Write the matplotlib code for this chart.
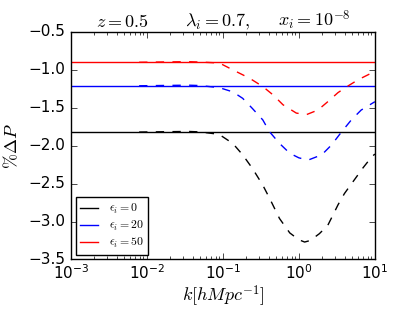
import matplotlib
matplotlib.use("Agg")
from matplotlib import pyplot as plt

# values
k_full = [1e-3, 1e1]
levels = {"0": -1.82, "20": -1.21, "50": -0.90}

k_eps0 = [0.0079, 0.020, 0.035, 0.050, 0.089, 0.135, 0.182, 0.245, 0.335, 0.41, 0.556, 0.759,
          1.0, 1.19, 1.41, 1.86, 2.4, 2.82, 3.27, 3.98, 4.47, 6.03, 7.0, 9.04, 10.0]
dp_eps0 = [-1.82, -1.815, -1.812, -1.818, -1.85, -1.97, -2.12, -2.30, -2.52, -2.69, -2.96, -3.15,
           -3.24, -3.27, -3.25, -3.16, -3.05, -2.91, -2.78, -2.63, -2.56, -2.38, -2.29, -2.15, -2.11]

k_eps20 = [0.0079, 0.020, 0.035, 0.050, 0.090, 0.135, 0.182, 0.245, 0.335, 0.41, 0.556, 0.759,
           1.0, 1.32, 2.0, 2.69, 3.63, 4.9, 6.6, 10.0]
dp_eps20 = [-1.21, -1.205, -1.202, -1.207, -1.235, -1.29, -1.375, -1.51, -1.66, -1.815, -1.97, -2.10,
            -2.16, -2.19, -2.12, -1.99, -1.82, -1.66, -1.53, -1.42]

k_eps50 = [0.0079, 0.020, 0.035, 0.050, 0.090, 0.135, 0.224, 0.335, 0.457, 0.617, 0.925,
           1.26, 1.78, 2.4, 3.27, 4.47, 6.03, 10.0]
dp_eps50 = [-0.90, -0.895, -0.892, -0.897, -0.91, -1.00, -1.11, -1.22, -1.33, -1.46, -1.57,
            -1.59, -1.53, -1.42, -1.30, -1.21, -1.13, -1.02]

plt.style.use("classic")
plt.rcParams["mathtext.fontset"] = "cm"

fig = plt.figure(figsize=(4.17, 3.13), dpi=100, facecolor="white")
ax = fig.add_axes([0.170, 0.171, 0.729, 0.727])

curves = [("0", k_eps0, dp_eps0, "k"), ("20", k_eps20, dp_eps20, "b"), ("50", k_eps50, dp_eps50, "r")]
for eps, kk, dp, c in curves:
    ax.plot(k_full, [levels[eps]] * 2, "-", color=c, lw=1, label=r"$\epsilon_i=%s$" % eps)
    ax.plot(kk, dp, "--", color=c, lw=1)

ax.set_xscale("log")
ax.set_xlim(1e-3, 1e1)
ax.set_ylim(-3.5, -0.5)
ax.tick_params(labelsize=11)
ax.tick_params(axis="x", pad=3)

ax.set_xlabel(r"$k[hMpc^{-1}]$", fontsize=13, labelpad=1)
ax.set_ylabel(r"$\%\Delta P$", fontsize=13)

# title pieces
ax.text(0.169, 1.023, r"$z=0.5$", transform=ax.transAxes, ha="center", va="baseline", fontsize=13)
ax.text(0.482, 1.023, r"$\lambda_i=0.7,$", transform=ax.transAxes, ha="center", va="baseline", fontsize=13)
ax.text(0.800, 1.023, r"$x_i=10^{-8}$", transform=ax.transAxes, ha="center", va="baseline", fontsize=13)

ax.legend(loc="lower left", fontsize=8.5, handlelength=1.5, handletextpad=0.9, labelspacing=0.25,
          borderpad=0.4, borderaxespad=0.4, numpoints=1, fancybox=False)

plt.savefig("out.png", dpi=100)
